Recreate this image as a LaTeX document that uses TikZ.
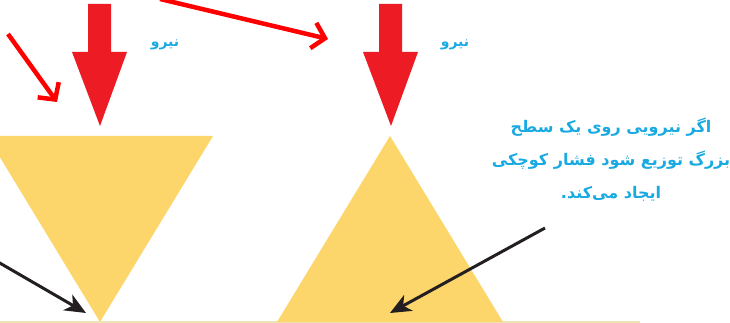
\documentclass[tikz,border=0pt]{standalone}
\usepackage{fontspec}
\TeXXeTstate=1
\newfontfamily\farsifont[Script=Arabic]{DejaVu Sans Bold}
\usetikzlibrary{arrows.meta}
\definecolor{sandyellow}{HTML}{FDD66B}
\definecolor{forcered}{HTML}{ED1C24}
\definecolor{pointred}{HTML}{FF0000}
\definecolor{notecyan}{HTML}{1AAAE2}
\definecolor{inkblack}{HTML}{231F20}
\definecolor{groundline}{HTML}{EEE4B4}
\tikzset{
  forcelabel/.style={text=notecyan, font=\farsifont\fontsize{14}{16}\selectfont},
  notetext/.style={text=notecyan, align=center, font=\farsifont\fontsize{16}{33}\selectfont},
  redpointer/.style={draw=pointred, line width=4.5pt, -{Straight Barb[length=12pt, width=26pt]}},
  blackpointer/.style={draw=inkblack, line width=3pt, -{Stealth[length=21pt, width=18pt, inset=6pt]}}
}
\begin{document}
\begin{tikzpicture}[x=1pt, y=-1pt]
  \clip (0,0) rectangle (730,323);
  \fill[white] (0,0) rectangle (730,323);
  % zamin
  \draw[groundline, line width=2pt] (0,322) -- (640,322);
  % do mosallas
  \fill[sandyellow] (-13,136) -- (213,136) -- (100,322) -- cycle;
  \fill[sandyellow] (277,322) -- (503,322) -- (390,136) -- cycle;
  % niroha
  \fill[forcered] (88,4) -- (111,4) -- (111,52) -- (127,52) -- (100,126) -- (72,52) -- (88,52) -- cycle;
  \fill[forcered] (379,4) -- (402,4) -- (402,52) -- (418,52) -- (391,126) -- (363,52) -- (379,52) -- cycle;
  \node[forcelabel] (niroLeft) at (165,45) {\beginR نیرو\endR};
  \node[forcelabel] (niroRight) at (455,45) {\beginR نیرو\endR};
  % matn
  \node[notetext] (note) at (611,160) {\beginR اگر نیرویی روی یک سطح\endR\\
    \beginR بزرگ توزیع شود فشار کوچکی\endR\\
    \beginR ایجاد می‌کند.\endR};
  % feleshha
  \coordinate (redStartA) at (8,34);
  \coordinate (redTipA) at (57,102);
  \coordinate (redStartB) at (160,-1);
  \coordinate (redTipB) at (328,39);
  \draw[redpointer] (redStartA) -- (redTipA);
  \draw[redpointer] (redStartB) -- (redTipB);
  \coordinate (blackStartA) at (-2,262);
  \coordinate (blackTipA) at (86,313);
  \coordinate (blackStartB) at (545,228);
  \coordinate (blackTipB) at (390,313);
  \draw[blackpointer] (blackStartA) -- (blackTipA);
  \draw[blackpointer] (blackStartB) -- (blackTipB);
\end{tikzpicture}
\end{document}
